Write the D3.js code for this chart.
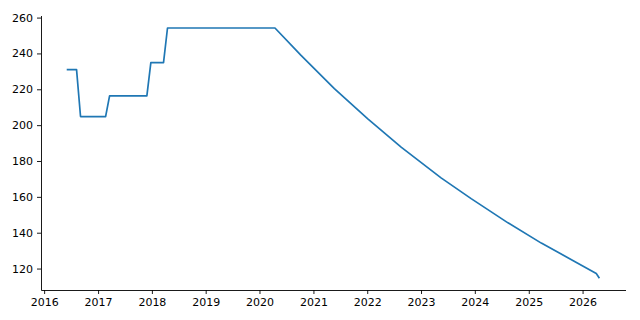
<!DOCTYPE html>
<html>
<head>
<meta charset="utf-8">
<script src="https://cdn.jsdelivr.net/npm/d3@7"></script>
<style>
  body { margin: 0; background: #fff; }
  svg { display: block; }
  .axis text { font-family: "DejaVu Sans", sans-serif; font-size: 11px; fill: #000; }
  .axis path, .axis line { stroke: #000; stroke-width: 0.9px; }
</style>
</head>
<body>
<svg id="chart" width="640" height="320"></svg>
<script>
// dates and values
var dates = [
    "2016-06-08", "2016-08-08", "2016-09-04", "2017-02-21", "2017-03-20",
    "2017-11-28", "2017-12-25", "2018-03-21", "2018-04-17", "2020-04-15",
    "2020-10-09", "2021-05-23", "2022-01-05", "2022-08-19", "2023-05-17",
    "2023-12-07", "2024-08-13", "2025-03-27", "2025-11-08", "2026-04-04",
    "2026-04-22"
];
var values = [
    231, 231, 204.8, 204.8, 216.3,
    216.3, 234.9, 234.9, 254.2, 254.2,
    238.9, 220.4, 203.5, 187.7, 170.6,
    159.0, 145.5, 134.2, 124.0, 117.2,
    115.0
];
var yTicks = [120, 140, 160, 180, 200, 220, 240, 260];
var xTickYears = [2016, 2017, 2018, 2019, 2020, 2021, 2022, 2023, 2024, 2025, 2026];

var parse = d3.timeParse("%Y-%m-%d");
var data = dates.map(function(d, i) { return {date: parse(d), value: values[i]}; });

var margin = {top: 15.5, right: 14.5, bottom: 30, left: 41};
var width = 640 - margin.left - margin.right;
var height = 320 - margin.top - margin.bottom;

// domains padded 5% like the original
var xExt = d3.extent(data, function(d) { return d.date; });
var xPad = (xExt[1] - xExt[0]) * 0.05;
var yExt = d3.extent(data, function(d) { return d.value; });
var yPad = (yExt[1] - yExt[0]) * 0.05;

var scaleX = d3.scaleTime()
    .domain([new Date(+xExt[0] - xPad), new Date(+xExt[1] + xPad)])
    .range([0, width]);
var scaleY = d3.scaleLinear()
    .domain([yExt[0] - yPad, yExt[1] + yPad])
    .range([height, 0]);

var chart = d3.select("#chart")
    .append("g")
        .attr("transform", "translate(" + margin.left + "," + margin.top + ")");

var xAxis = d3.axisBottom(scaleX)
    .tickValues(xTickYears.map(function(y) { return new Date(y, 0, 1); }))
    .tickFormat(d3.timeFormat("%Y"))
    .tickSize(4)
    .tickPadding(4)
    .tickSizeOuter(0);

var yAxis = d3.axisLeft(scaleY)
    .tickValues(yTicks)
    .tickSize(4)
    .tickPadding(4)
    .tickSizeOuter(0);

chart.append("g")
    .attr("class", "x axis")
    .attr("transform", "translate(0," + height + ")")
    .call(xAxis);

chart.append("g")
    .attr("class", "y axis")
    .call(yAxis);

var line = d3.line()
    .x(function(d) { return scaleX(d.date); })
    .y(function(d) { return scaleY(d.value); });

chart.append("path")
    .datum(data)
    .attr("fill", "none")
    .attr("stroke", "#1f77b4")
    .attr("stroke-width", 1.7)
    .attr("stroke-linejoin", "round")
    .attr("stroke-linecap", "square")
    .attr("d", line);
</script>
</body>
</html>
